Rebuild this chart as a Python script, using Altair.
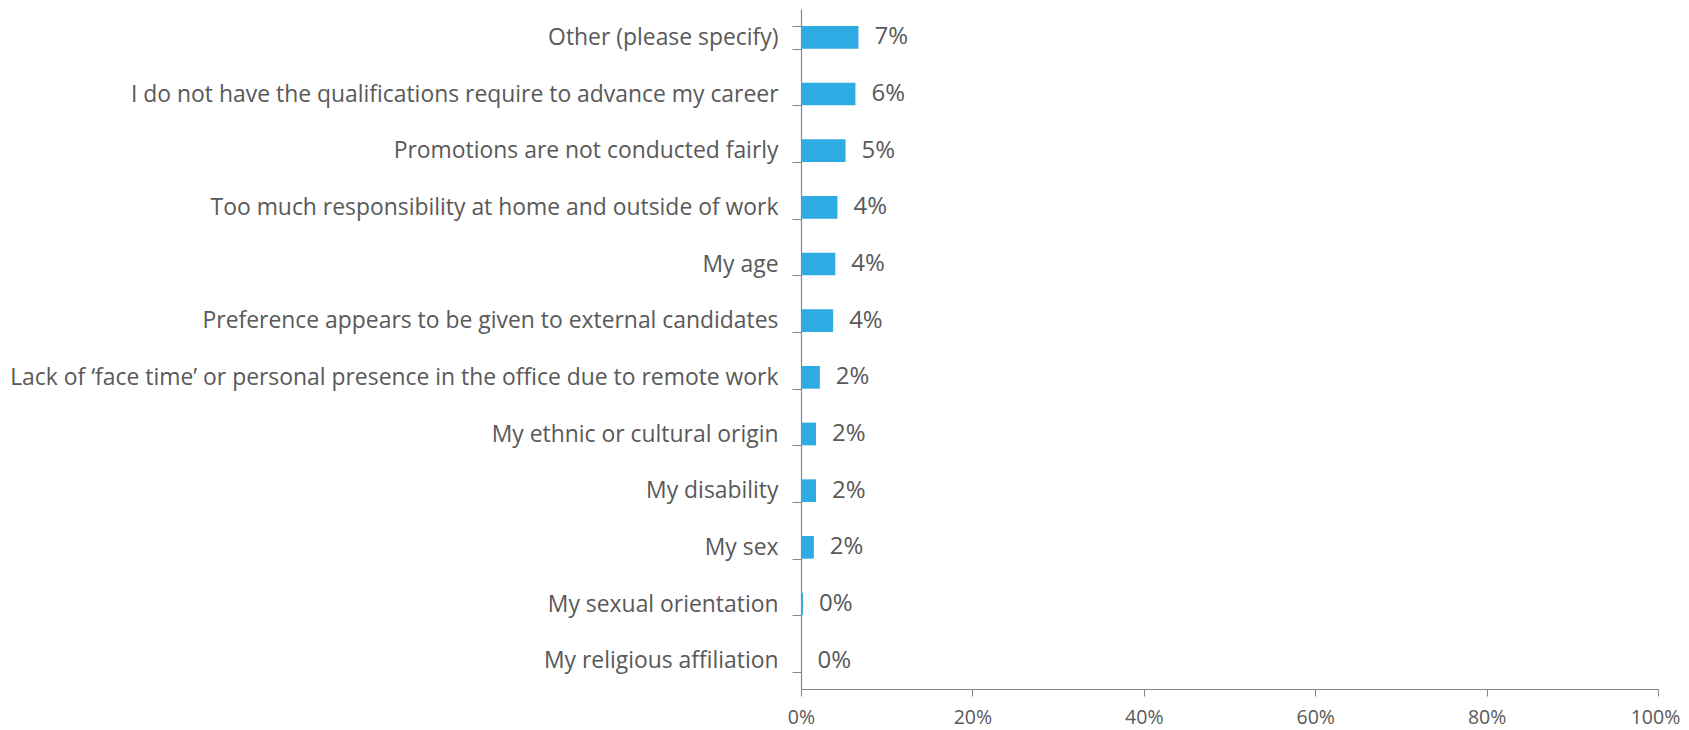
import altair as alt
import pandas as pd

categories = [
    "Other (please specify)",
    "I do not have the qualifications require to advance my career",
    "Promotions are not conducted fairly",
    "Too much responsibility at home and outside of work",
    "My age",
    "Preference appears to be given to external candidates",
    "Lack of \u2018face time\u2019 or personal presence in the office due to remote work",
    "My ethnic or cultural origin",
    "My disability",
    "My sex",
    "My sexual orientation",
    "My religious affiliation",
]
values = [0.067, 0.0635, 0.052, 0.0425, 0.040, 0.0375, 0.022, 0.0175, 0.0175, 0.015, 0.0023, 0.0005]
x_ticks = [0, 0.2, 0.4, 0.6, 0.8, 1.0]

df = pd.DataFrame({"category": categories, "value": values})

FONT = "Open Sans"
TEXT = "#595959"
AXIS = "#868686"
BAR = "#2EABE2"

y_enc = alt.Y(
    "category:N",
    sort=categories,
    title=None,
    scale=alt.Scale(paddingInner=0.6, paddingOuter=0.3),
    axis=alt.Axis(
        tickBand="extent",
        tickSize=9,
        labelPadding=14,
        labelFontSize=22.9,
        labelFont=FONT,
        labelColor=TEXT,
        labelLimit=900,
        domainColor=AXIS,
        tickColor=AXIS,
        domainWidth=1.2,
    ),
)
x_enc = alt.X(
    "value:Q",
    title=None,
    scale=alt.Scale(domain=[0, 1], nice=False),
    axis=alt.Axis(
        values=x_ticks,
        format=".0%",
        tickSize=7,
        labelPadding=12,
        labelFontSize=19.5,
        labelFont=FONT,
        labelColor=TEXT,
        labelOffset={"condition": {"test": "datum.value === 1", "value": -3}, "value": 0},
        domainColor=AXIS,
        tickColor=AXIS,
        grid=False,
        labelFlush=False,
        domainWidth=1.2,
    ),
)

bars = alt.Chart(df).mark_bar(color=BAR).encode(x=x_enc, y=y_enc)
labels = alt.Chart(df).mark_text(
    align="left", baseline="middle", dx=16, fontSize=24, font=FONT, color=TEXT
).encode(
    x=alt.X("value:Q", scale=alt.Scale(domain=[0, 1], nice=False)),
    y=alt.Y("category:N", sort=categories),
    text=alt.Text("value:Q", format=".0%"),
)

chart = (
    alt.layer(bars, labels)
    .properties(
        width=857,
        height=680,
        autosize="none",
        padding={"left": 793, "top": 1, "right": 23, "bottom": 40},
    )
    .configure_view(stroke=None)
)

chart.save("out.html", embed_options={"renderer": "svg", "actions": False})
